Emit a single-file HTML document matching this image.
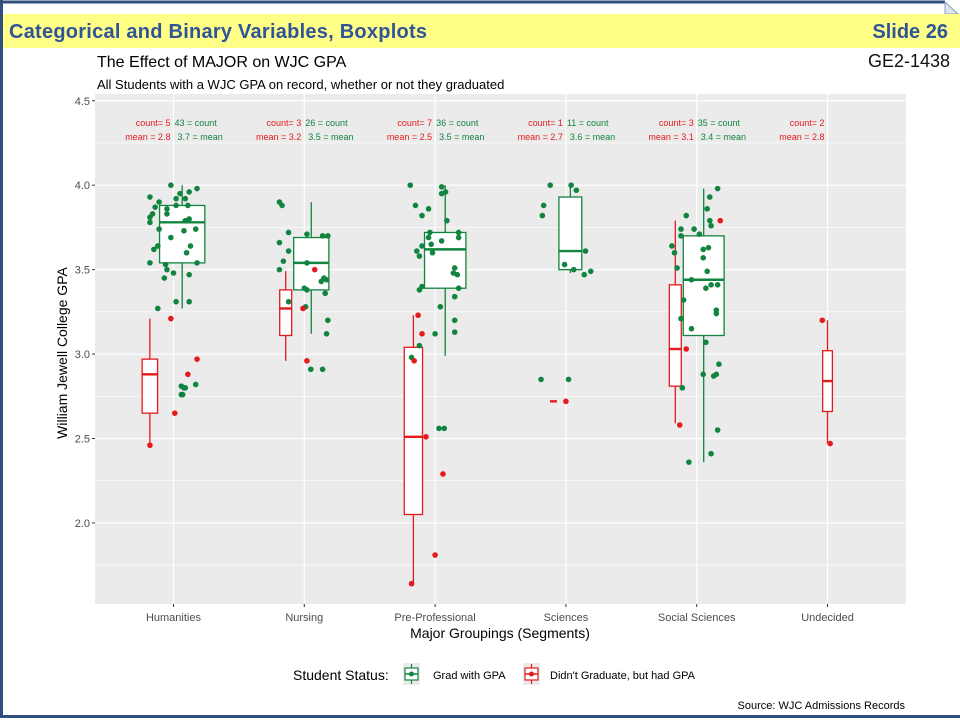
<!DOCTYPE html>
<html><head><meta charset="utf-8"><style>
body{margin:0;background:#fff;}
svg{display:block;font-family:"Liberation Sans",sans-serif;}
</style></head><body>
<svg id="chart" width="960" height="720" xmlns="http://www.w3.org/2000/svg">
<rect x="0" y="0" width="960" height="720" fill="#fff"/>
<line x1="0" y1="2" x2="945" y2="2" stroke="#2f4f7f" stroke-width="3"/>
<line x1="1.5" y1="0" x2="1.5" y2="718" stroke="#2f4f7f" stroke-width="3"/>
<line x1="0" y1="716.5" x2="960" y2="716.5" stroke="#2f4f7f" stroke-width="3"/>
<polygon points="945,2 958,14 945,14" fill="#dde4ee" stroke="#8aa0c0" stroke-width="1"/>
<rect x="3" y="14" width="957" height="34" fill="#ffff88"/>
<text x="9" y="38" font-family="Liberation Sans, sans-serif" font-size="20" font-weight="bold" fill="#2f5597" textLength="418">Categorical and Binary Variables, Boxplots</text>
<text x="948" y="38" text-anchor="end" font-size="20" font-weight="bold" fill="#2f5597">Slide 26</text>
<text x="950" y="67" text-anchor="end" font-size="18" fill="#111">GE2-1438</text>
<text x="97" y="67" font-size="16" fill="#000">The Effect of MAJOR on WJC GPA</text>
<text x="97" y="89" font-size="13" fill="#000">All Students with a WJC GPA on record, whether or not they graduated</text>
<g id="plot"></g>
<text x="500" y="638" text-anchor="middle" font-size="14" fill="#000">Major Groupings (Segments)</text>
<text transform="translate(67,353) rotate(-90)" text-anchor="middle" font-size="14" fill="#000">William Jewell College GPA</text>
<g>
<text x="293" y="680" font-size="14" fill="#000">Student Status:</text>
<g>
<rect x="403" y="663" width="17" height="22" fill="#ebebeb"/>
<line x1="411.5" y1="664" x2="411.5" y2="684" stroke="#11843f" stroke-width="1.2"/>
<rect x="405" y="668" width="13" height="12" fill="#fff" stroke="#11843f" stroke-width="1.2"/>
<line x1="405" y1="674" x2="418" y2="674" stroke="#11843f" stroke-width="1.5"/>
<circle cx="411.5" cy="674" r="2.5" fill="#11843f"/>
<text x="433" y="679" font-size="11" fill="#000">Grad with GPA</text></g>
<g>
<rect x="523" y="663" width="17" height="22" fill="#ebebeb"/>
<line x1="531.5" y1="664" x2="531.5" y2="684" stroke="#e41a1c" stroke-width="1.2"/>
<rect x="525" y="668" width="13" height="12" fill="#fff" stroke="#e41a1c" stroke-width="1.2"/>
<line x1="525" y1="674" x2="538" y2="674" stroke="#e41a1c" stroke-width="1.5"/>
<circle cx="531.5" cy="674" r="2.5" fill="#e41a1c"/>
<text x="550" y="679" font-size="11" fill="#000">Didn't Graduate, but had GPA</text></g>
</g>
<text x="905" y="709" text-anchor="end" font-size="11" fill="#000">Source: WJC Admissions Records</text>
</svg>
<script>
const categories=["Humanities","Nursing","Pre-Professional","Sciences","Social Sciences","Undecided"];
const yTicks=[2.0,2.5,3.0,3.5,4.0,4.5];
const yTickLabels=["2.0","2.5","3.0","3.5","4.0","4.5"];
const gradCount=[43,26,36,11,35,0];
const gradMean=["3.7","3.5","3.5","3.6","3.4",""];
const dropCount=[5,3,7,1,3,2];
const dropMean=["2.8","3.2","2.5","2.7","3.1","2.8"];
// [whiskerLow, q1, median, q3, whiskerHigh]
const gradBox=[[3.27,3.54,3.78,3.88,4.0],[3.12,3.38,3.54,3.69,3.90],[2.99,3.39,3.62,3.72,4.0],[3.48,3.50,3.61,3.93,4.0],[2.36,3.11,3.44,3.70,3.98],null];
const dropBox=[[2.46,2.65,2.88,2.97,3.21],[2.96,3.11,3.27,3.38,3.49],[1.64,2.05,2.51,3.04,3.23],[2.72,2.72,2.72,2.72,2.72],[2.59,2.81,3.03,3.41,3.79],[2.47,2.66,2.84,3.02,3.20]];
// points: category index, GPA value, jitter (fraction of category band)
const gradCat=[0,0,0,0,0,0,0,0,0,0,0,0,0,0,0,0,0,0,0,0,0,0,0,0,0,0,0,0,0,0,0,0,0,0,0,0,0,0,0,0,0,0,1,1,1,1,1,1,1,1,1,1,1,1,1,1,1,1,1,1,1,1,1,1,1,2,2,2,2,2,2,2,2,2,2,2,2,2,2,2,2,2,2,2,2,2,2,2,2,2,2,2,2,2,2,2,2,2,3,3,3,3,3,3,3,3,3,3,3,3,4,4,4,4,4,4,4,4,4,4,4,4,4,4,4,4,4,4,4,4,4,4,4,4,4,4,4,4,4,4,4,4,4,4,4];
const gradVal=[4.00,3.98,3.93,3.96,3.95,3.92,3.92,3.90,3.87,3.88,3.88,3.86,3.83,3.81,3.78,3.83,3.79,3.80,3.74,3.73,3.74,3.69,3.64,3.64,3.62,3.60,3.54,3.53,3.54,3.50,3.48,3.45,3.47,3.31,3.31,3.27,2.81,2.80,2.76,2.80,2.82,2.76,
3.90,3.88,3.72,3.66,3.71,3.70,3.70,3.61,3.55,3.50,3.54,3.45,3.44,3.43,3.39,3.38,3.36,3.31,3.28,3.20,3.12,2.91,2.91,
4.00,3.99,3.95,3.96,3.88,3.86,3.82,3.79,3.72,3.72,3.69,3.69,3.67,3.65,3.64,3.61,3.60,3.58,3.51,3.48,3.47,3.40,3.38,3.39,3.34,3.28,3.20,3.13,3.12,3.05,2.98,2.56,2.56,
4.00,4.00,3.97,3.88,3.82,3.61,3.53,3.50,3.47,3.49,2.85,2.85,
3.98,3.93,3.82,3.86,3.79,3.76,3.74,3.74,3.70,3.71,3.64,3.60,3.62,3.63,3.57,3.51,3.49,3.44,3.41,3.41,3.39,3.32,3.26,3.24,3.21,3.15,3.07,2.94,2.88,2.87,2.88,2.80,2.55,2.41,2.36];
const gradJit=[-0.02,0.18,-0.18,0.12,0.05,0.09,0.02,-0.11,-0.14,0.02,0.11,-0.05,-0.16,-0.18,-0.18,-0.05,0.09,0.12,-0.11,0.08,0.17,-0.02,0.13,-0.12,-0.15,0.10,-0.18,-0.06,0.18,-0.05,0.00,-0.07,0.12,0.02,0.12,-0.12,0.06,0.08,0.06,0.09,0.17,0.07,
-0.19,-0.17,-0.12,-0.19,0.02,0.14,0.18,-0.12,-0.16,-0.19,0.02,0.15,0.17,0.13,0.00,0.02,0.16,-0.12,0.01,0.18,0.17,0.05,0.14,
-0.19,0.05,0.05,0.08,-0.15,-0.05,-0.10,0.09,-0.04,0.18,-0.05,0.18,0.05,-0.03,-0.10,-0.14,-0.02,-0.12,0.15,0.14,0.17,-0.10,-0.12,0.18,0.15,0.04,0.15,0.15,0.00,-0.12,-0.18,0.03,0.07,
-0.12,0.04,0.08,-0.17,-0.18,0.15,-0.01,0.06,0.14,0.19,-0.19,0.02,
0.16,0.10,-0.08,0.08,0.10,0.11,-0.02,-0.12,-0.12,0.02,-0.19,-0.17,0.05,0.09,0.05,-0.15,0.08,-0.04,0.11,0.16,0.07,-0.10,0.15,0.15,-0.12,-0.04,0.07,0.17,0.05,0.13,0.15,-0.11,0.16,0.11,-0.06];
const dropCat=[0,0,0,0,0,1,1,1,2,2,2,2,2,2,2,3,4,4,4,5,5];
const dropVal=[3.21,2.97,2.88,2.65,2.46,3.50,3.27,2.96,3.23,3.12,2.96,2.51,2.29,1.81,1.64,2.72,3.79,3.03,2.58,3.20,2.47];
const dropJit=[-0.02,0.18,0.11,0.01,-0.18,0.08,-0.01,0.02,-0.13,-0.10,-0.16,-0.07,0.06,0.00,-0.18,0.00,0.18,-0.08,-0.13,-0.04,0.02];

const NS="http://www.w3.org/2000/svg";
const P={l:95,r:906,t:94,b:604};
const yMin=1.52,yMax=4.54;
const band=(P.r-P.l)/(categories.length+0.2);
function xScale(i){return P.l+band*(i+0.6);}
function yScale(v){return P.b-(v-yMin)/(yMax-yMin)*(P.b-P.t);}
const GREEN="#11843f",RED="#e41a1c";
const plot=document.getElementById('plot');
function mk(tag,attrs,parent){const e=document.createElementNS(NS,tag);for(const k in attrs)e.setAttribute(k,attrs[k]);(parent||plot).appendChild(e);return e;}
const panel=mk('rect',{x:P.l,y:P.t,width:P.r-P.l,height:P.b-P.t,fill:'#ebebeb'});


for(let k=0;k<yTicks.length-1;k++){const v=(yTicks[k]+yTicks[k+1])/2;mk('line',{x1:P.l,x2:P.r,y1:yScale(v),y2:yScale(v),stroke:'#fff','stroke-width':0.6});}
mk('line',{x1:P.l,x2:P.r,y1:yScale(1.75),y2:yScale(1.75),stroke:'#fff','stroke-width':0.6});
yTicks.forEach((v,k)=>{
 const g=mk('line',{x1:P.l,x2:P.r,y1:yScale(v),y2:yScale(v),stroke:'#fff','stroke-width':1.2});
 
 
 mk('line',{x1:P.l-3,x2:P.l,y1:yScale(v),y2:yScale(v),stroke:'#333','stroke-width':1});
 const t=mk('text',{x:P.l-5,y:yScale(v)+4,'text-anchor':'end','font-size':11,fill:'#4d4d4d'});
 t.textContent=yTickLabels[k];
 
 
});
categories.forEach((c,i)=>{
 const x=xScale(i);
 mk('line',{x1:x,x2:x,y1:P.t,y2:P.b,stroke:'#fff','stroke-width':1.2});
 mk('line',{x1:x,x2:x,y1:P.b,y2:P.b+3,stroke:'#333','stroke-width':1});
 const t=mk('text',{x:x,y:P.b+17,'text-anchor':'middle','font-size':11,fill:'#4d4d4d'});
 t.textContent=c;
 
 
});
function drawBox(i,b,n,cx,w,col,name){
 const g=mk('g',{});
 
 
 mk('line',{x1:cx,x2:cx,y1:yScale(b[0]),y2:yScale(b[4]),stroke:col,'stroke-width':1.3},g);
 mk('rect',{x:cx-w/2,y:yScale(b[3]),width:w,height:yScale(b[1])-yScale(b[3]),fill:'#fff',stroke:col,'stroke-width':1.3},g);
 mk('line',{x1:cx-w/2,x2:cx+w/2,y1:yScale(b[2]),y2:yScale(b[2]),stroke:col,'stroke-width':2.4},g);
}
const wUnit=6.9;
categories.forEach((c,i)=>{
 const x=xScale(i);
 const wr=dropCount[i]?wUnit*Math.sqrt(dropCount[i]):0;
 const wg=gradCount[i]?wUnit*Math.sqrt(gradCount[i]):0;
 const left=x-(wr+wg)/2-(wr&&wg?1:0);
 if(dropBox[i])drawBox(i,dropBox[i],dropCount[i],left+wr/2,wr,RED,'box-dropout-'+i);
 if(gradBox[i])drawBox(i,gradBox[i],gradCount[i],left+wr+(wr?2:0)+wg/2,wg,GREEN,'box-grad-'+i);
 const a1=mk('text',{x:x-3,y:126,'text-anchor':'end','font-size':9,fill:RED});a1.textContent='count= '+dropCount[i];
 
 
 const a2=mk('text',{x:x-3,y:140,'text-anchor':'end','font-size':9,fill:RED});a2.textContent='mean = '+dropMean[i];
 
 
 if(gradCount[i]){
  const a3=mk('text',{x:x+1,y:126,'font-size':9,fill:GREEN});a3.textContent=gradCount[i]+' = count';
  
  
  const a4=mk('text',{x:x+4,y:140,'font-size':9,fill:GREEN});a4.textContent=gradMean[i]+' = mean';
  
  
 }
});
gradVal.forEach((v,k)=>{
 const p=mk('circle',{cx:xScale(gradCat[k])+gradJit[k]*band,cy:yScale(v),r:2.8,fill:GREEN});
 
 
});
dropVal.forEach((v,k)=>{
 const p=mk('circle',{cx:xScale(dropCat[k])+dropJit[k]*band,cy:yScale(v),r:2.8,fill:RED});
 
 
});
</script>
</body></html>
